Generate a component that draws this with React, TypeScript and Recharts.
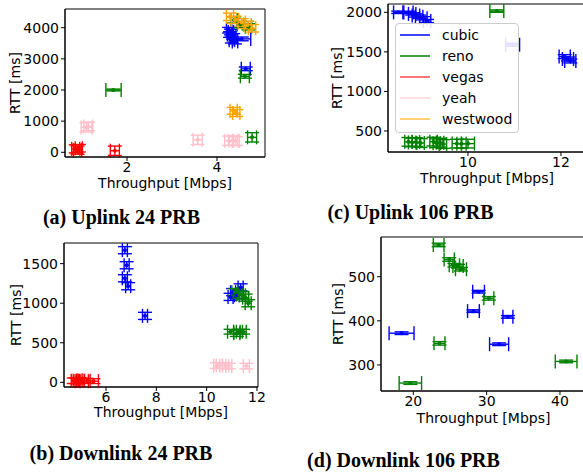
import React from "react";
import { ErrorBar, ReferenceArea, Scatter, ScatterChart, XAxis, YAxis } from "recharts";

// [throughput, rtt, throughput error, rtt error]
type Pt = [number, number, number, number];

const FONT = "'DejaVu Sans', sans-serif";

const SERIES_NAMES = ["cubic", "reno", "vegas", "yeah", "westwood"];
const SERIES_COLORS = ["#0000ff", "#008000", "#ff0000", "#ffc0cb", "#ffa500"];
const LEGEND_ALPHA = [1, 1, 0.7, 0.7, 0.7];

// (a) Uplink 24 PRB
const ul24Cubic: Pt[] = [
  [4.27, 3920, 0.06, 90],
  [4.31, 3860, 0.06, 90],
  [4.29, 3780, 0.06, 90],
  [4.36, 3720, 0.06, 90],
  [4.33, 3600, 0.06, 90],
  [4.55, 3640, 0.2, 60],
  [4.4, 3560, 0.06, 80],
  [4.64, 2680, 0.1, 60],
];
const ul24Reno: Pt[] = [
  [1.7, 2000, 0.17, 30],
  [4.38, 4250, 0.07, 100],
  [4.52, 4100, 0.07, 100],
  [4.7, 4030, 0.07, 100],
  [4.62, 2440, 0.1, 60],
  [4.78, 480, 0.1, 150],
];
const ul24Vegas: Pt[] = [
  [0.86, 110, 0.09, 130],
  [0.9, 70, 0.09, 130],
  [0.93, 130, 0.08, 120],
  [1.73, 50, 0.1, 150],
];
const ul24Yeah: Pt[] = [
  [1.1, 800, 0.12, 150],
  [1.14, 830, 0.1, 140],
  [3.57, 400, 0.1, 150],
  [4.27, 370, 0.1, 150],
  [4.36, 375, 0.1, 150],
  [4.42, 360, 0.08, 140],
];
const ul24Westwood: Pt[] = [
  [4.29, 4350, 0.08, 120],
  [4.4, 4250, 0.08, 120],
  [4.55, 4170, 0.08, 120],
  [4.68, 4090, 0.08, 120],
  [4.78, 3980, 0.08, 120],
  [4.37, 1330, 0.08, 110],
  [4.43, 1260, 0.08, 110],
];
const ul24XTicks = [2, 4];
const ul24YTicks = [0, 1000, 2000, 3000, 4000];

// (c) Uplink 106 PRB
const ul106Cubic: Pt[] = [
  [8.5, 2000, 0.1, 15],
  [8.72, 1998, 0.1, 15],
  [8.8, 1980, 0.08, 15],
  [8.88, 1960, 0.08, 20],
  [8.95, 1945, 0.08, 20],
  [9.04, 1925, 0.08, 20],
  [9.12, 1890, 0.08, 20],
  [10.96, 1590, 0.15, 20],
  [12.08, 1440, 0.12, 25],
  [12.15, 1410, 0.12, 25],
  [12.2, 1385, 0.12, 25],
];
const ul106Reno: Pt[] = [
  [10.62, 2015, 0.15, 15],
  [8.72, 362, 0.08, 55],
  [8.8, 355, 0.08, 55],
  [8.88, 360, 0.08, 55],
  [8.98, 348, 0.08, 55],
  [9.26, 365, 0.08, 55],
  [9.33, 345, 0.08, 55],
  [9.4, 352, 0.08, 55],
  [9.46, 335, 0.08, 55],
  [9.76, 340, 0.1, 55],
  [9.86, 338, 0.1, 55],
  [10.0, 340, 0.14, 55],
];
const ul106XTicks = [10, 12];
const ul106YTicks = [500, 1000, 1500, 2000];

// (b) Downlink 24 PRB
const dl24Cubic: Pt[] = [
  [6.75, 1670, 0.1, 45],
  [6.82, 1480, 0.1, 45],
  [6.75, 1315, 0.1, 45],
  [6.88, 1215, 0.1, 45],
  [7.55, 840, 0.1, 45],
  [10.95, 1080, 0.1, 45],
  [11.05, 1140, 0.1, 45],
  [11.35, 1200, 0.1, 45],
  [11.2, 1100, 0.1, 45],
];
const dl24Reno: Pt[] = [
  [11.12, 1140, 0.12, 45],
  [11.3, 1110, 0.12, 45],
  [11.42, 1100, 0.12, 45],
  [11.55, 1070, 0.12, 45],
  [11.65, 1000, 0.12, 45],
  [10.95, 640, 0.12, 30],
  [11.2, 620, 0.12, 40],
  [11.3, 640, 0.12, 30],
  [11.45, 640, 0.12, 30],
];
const dl24Vegas: Pt[] = [
  [4.72, 20, 0.1, 35],
  [4.8, 20, 0.1, 35],
  [4.87, 15, 0.1, 35],
  [4.95, 25, 0.1, 35],
  [5.05, 20, 0.1, 30],
  [5.25, 20, 0.12, 30],
  [5.5, 15, 0.2, 30],
];
const dl24Yeah: Pt[] = [
  [10.4, 210, 0.12, 35],
  [10.5, 215, 0.12, 35],
  [10.75, 210, 0.12, 35],
  [10.88, 205, 0.12, 35],
  [11.58, 205, 0.12, 35],
];
const dl24XTicks = [6, 8, 10, 12];
const dl24YTicks = [0, 500, 1000, 1500];

// (d) Downlink 106 PRB
const dl106Cubic: Pt[] = [
  [28.9, 466, 0.8, 3],
  [28.2, 422, 0.8, 3],
  [32.9, 409, 0.68, 3],
  [18.4, 372, 1.7, 3],
  [31.7, 347, 1.3, 3],
];
const dl106Reno: Pt[] = [
  [23.46, 572, 0.73, 4],
  [24.9, 539, 0.7, 4],
  [25.6, 526, 0.7, 4],
  [26.1, 524, 0.7, 4],
  [26.5, 517, 0.75, 4],
  [30.3, 451, 0.68, 4],
  [23.57, 349, 0.75, 4],
  [40.84, 308, 1.48, 3],
  [19.6, 259, 1.53, 3],
];
const dl106XTicks = [20, 30, 40];
const dl106YTicks = [300, 400, 500];

const toRows = (pts: Pt[]) => pts.map(([x, y, ex, ey]) => ({ x, y, ex, ey }));

type Box = { l: number; t: number; r: number; b: number };

function Panel(props: {
  left: number;
  top: number;
  width: number;
  height: number;
  plot: Box;
  xDomain: [number, number];
  yDomain: [number, number];
  xTicks: number[];
  yTicks: number[];
  series: Pt[][];
  xLabelBase: number;
  yLabelX: number;
}) {
  const { left, top, width, height, plot, xDomain, yDomain, xTicks, yTicks, series } = props;
  const margin = { top: plot.t - top, right: left + width - plot.r, bottom: 0, left: 0 };
  const tick = { fontSize: 14, fill: "#000", fontFamily: FONT };
  const midX = (plot.l + plot.r) / 2 - left;
  const midY = (plot.t + plot.b) / 2 - top;

  return (
    <div style={{ position: "absolute", left, top }}>
      <ScatterChart width={width} height={height} margin={margin}>
        <XAxis
          type="number"
          dataKey="x"
          domain={xDomain}
          allowDataOverflow
          ticks={xTicks}
          interval={0}
          height={top + height - plot.b}
          tick={tick}
          tickSize={4}
          tickMargin={1}
          stroke="#000"
          label={{
            content: () => (
              <text x={midX} y={props.xLabelBase} textAnchor="middle" fontSize={14} fontFamily={FONT} fill="#000">
                Throughput [Mbps]
              </text>
            ),
          }}
        />
        <YAxis
          type="number"
          dataKey="y"
          domain={yDomain}
          allowDataOverflow
          ticks={yTicks}
          interval={0}
          width={plot.l - left}
          tick={tick}
          tickSize={4}
          tickMargin={2}
          stroke="#000"
          label={{
            content: () => (
              <text
                x={props.yLabelX}
                y={midY}
                dy="0.35em"
                transform={`rotate(-90, ${props.yLabelX}, ${midY})`}
                textAnchor="middle"
                fontSize={14}
                fontFamily={FONT}
                fill="#000"
              >
                RTT [ms]
              </text>
            ),
          }}
        />
        {/* plot frame (top / right spines) */}
        <ReferenceArea
          x1={xDomain[0]}
          x2={xDomain[1]}
          y1={yDomain[0]}
          y2={yDomain[1]}
          fill="none"
          stroke="#000"
          strokeWidth={1}
          ifOverflow="visible"
        />
        {series.map((pts, i) =>
          pts.length ? (
            <Scatter
              key={SERIES_NAMES[i]}
              name={SERIES_NAMES[i]}
              data={toRows(pts)}
              fill={SERIES_COLORS[i]}
              isAnimationActive={false}
              shape={(p: any) => <circle cx={p.cx} cy={p.cy} r={2} fill={SERIES_COLORS[i]} />}
            >
              <ErrorBar
                dataKey="ex"
                direction="x"
                width={7}
                stroke={SERIES_COLORS[i]}
                strokeWidth={1.4}
                isAnimationActive={false}
              />
              <ErrorBar
                dataKey="ey"
                direction="y"
                width={7}
                stroke={SERIES_COLORS[i]}
                strokeWidth={1.4}
                isAnimationActive={false}
              />
            </Scatter>
          ) : null
        )}
      </ScatterChart>
    </div>
  );
}

const captionStyle: React.CSSProperties = {
  position: "absolute",
  width: 260,
  textAlign: "center",
  fontFamily: "'Liberation Serif', serif",
  fontWeight: "bold",
  fontSize: 20,
  lineHeight: 1,
  whiteSpace: "nowrap",
};

export default function App() {
  return (
    <div
      style={{
        position: "absolute",
        left: 0,
        top: 0,
        width: 583,
        height: 472,
        overflow: "hidden",
        background: "#fff",
        fontFamily: FONT,
      }}
    >
      <Panel
        left={0}
        top={0}
        width={280}
        height={200}
        plot={{ l: 65, t: 9, r: 265, b: 157 }}
        xDomain={[0.622, 5.067]}
        yDomain={[-151, 4600]}
        xTicks={ul24XTicks}
        yTicks={ul24YTicks}
        series={[ul24Cubic, ul24Reno, ul24Vegas, ul24Yeah, ul24Westwood]}
        xLabelBase={188}
        yLabelX={15.5}
      />
      <Panel
        left={290}
        top={0}
        width={296}
        height={200}
        plot={{ l: 388, t: 4, r: 586, b: 152 }}
        xDomain={[8.28, 12.538]}
        yDomain={[234, 2105]}
        xTicks={ul106XTicks}
        yTicks={ul106YTicks}
        series={[ul106Cubic, ul106Reno, [], [], []]}
        xLabelBase={183}
        yLabelX={46.7}
      />
      <Panel
        left={0}
        top={230}
        width={275}
        height={200}
        plot={{ l: 64, t: 243, r: 258, b: 387 }}
        xDomain={[4.331, 12.04]}
        yDomain={[-59, 1761]}
        xTicks={dl24XTicks}
        yTicks={dl24YTicks}
        series={[dl24Cubic, dl24Reno, dl24Vegas, dl24Yeah, []]}
        xLabelBase={187.3}
        yLabelX={16}
      />
      <Panel
        left={290}
        top={230}
        width={296}
        height={200}
        plot={{ l: 381, t: 237, r: 586, b: 391 }}
        xDomain={[15.595, 43.55]}
        yDomain={[241, 590]}
        xTicks={dl106XTicks}
        yTicks={dl106YTicks}
        series={[dl106Cubic, dl106Reno, [], [], []]}
        xLabelBase={192.7}
        yLabelX={48}
      />

      <div
        style={{
          position: "absolute",
          left: 395,
          top: 23,
          width: 124,
          height: 110,
          boxSizing: "border-box",
          border: "1px solid #cccccc",
          borderRadius: 4,
          background: "rgba(255,255,255,0.88)",
        }}
      >
        {SERIES_NAMES.map((name, i) => (
          <div
            key={name}
            style={{
              position: "absolute",
              left: 4,
              top: i * 21.2,
              height: 21,
              display: "flex",
              alignItems: "center",
            }}
          >
            <svg width={30} height={4} style={{ display: "block" }}>
              <line
                x1={0}
                x2={30}
                y1={2}
                y2={2}
                stroke={SERIES_COLORS[i]}
                strokeOpacity={LEGEND_ALPHA[i]}
                strokeWidth={1.5}
              />
            </svg>
            <span style={{ marginLeft: 12, fontSize: 14, color: "#000" }}>{name}</span>
          </div>
        ))}
      </div>

      <div style={{ ...captionStyle, left: 121.5 - 130, top: 206.5 }}>(a) Uplink 24 PRB</div>
      <div style={{ ...captionStyle, left: 410.5 - 130, top: 201.8 }}>(c) Uplink 106 PRB</div>
      <div style={{ ...captionStyle, left: 121 - 130, top: 442.6 }}>(b) Downlink 24 PRB</div>
      <div style={{ ...captionStyle, left: 403.5 - 130, top: 450.1 }}>(d) Downlink 106 PRB</div>
    </div>
  );
}
